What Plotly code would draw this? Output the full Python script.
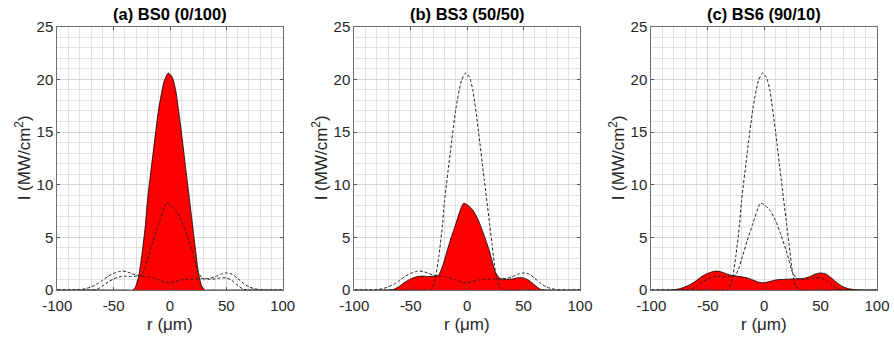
import plotly.graph_objects as go

# ---- data ----
r_bs0 = [-100, -40, -33, -31, -28, -25, -22, -20, -15, -10, -5, -1.5, 2, 5, 10, 15, 20, 22, 25, 28, 31, 35, 100]
i_bs0 = [0, 0, 0, 0.2, 1.2, 3.3, 6.0, 8.5, 13.0, 17.2, 19.9, 20.6, 20.2, 19.0, 15.1, 10.6, 6.2, 4.4, 1.8, 0.4, 0, 0, 0]

r_bs3 = [-100, -75, -70, -65, -60, -55, -50, -45, -40, -35, -30, -27, -25, -22, -20, -15, -10, -5, -3, 0, 5, 10, 15, 20, 25, 28, 30, 35, 40, 45, 50, 55, 60, 65, 70, 100]
i_bs3 = [0, 0, 0.01, 0.06, 0.35, 0.75, 1.05, 1.25, 1.32, 1.28, 1.3, 1.32, 1.45, 2.2, 2.9, 4.7, 6.3, 7.9, 8.25, 8.1, 7.6, 6.6, 5.2, 3.6, 1.7, 1.2, 1.05, 1.0, 1.05, 1.15, 1.15, 0.9, 0.45, 0.07, 0.0, 0]

r_bs6 = [-100, -90, -85, -80, -75, -70, -65, -60, -55, -50, -45, -42, -38, -35, -30, -25, -20, -15, -10, -5, -2, 0, 5, 10, 15, 20, 25, 30, 35, 40, 45, 50, 55, 60, 65, 70, 75, 80, 85, 90, 100]
i_bs6 = [0, 0, 0.01, 0.03, 0.12, 0.3, 0.55, 0.9, 1.3, 1.58, 1.76, 1.8, 1.72, 1.6, 1.42, 1.32, 1.25, 1.15, 0.95, 0.75, 0.7, 0.7, 0.8, 0.95, 1.0, 1.02, 1.05, 1.08, 1.1, 1.25, 1.5, 1.62, 1.5, 1.1, 0.65, 0.3, 0.12, 0.04, 0.01, 0, 0]

titles = ["(a) BS0 (0/100)", "(b) BS3 (50/50)", "(c) BS6 (90/10)"]
x_ticks = [-100, -50, 0, 50, 100]
y_ticks = [0, 5, 10, 15, 20, 25]

profiles = [(r_bs0, i_bs0), (r_bs3, i_bs3), (r_bs6, i_bs6)]

W, H = 894, 341
x_domains = [(57.3 / W, 282.7 / W), (354.3 / W, 580.0 / W), (651.3 / W, 877.0 / W)]
y_domain = (1 - 290.0 / H, 1 - 26.7 / H)

fig = go.Figure()
FONT = "Liberation Sans, Arial, Helvetica, sans-serif"
TXT = "#262626"

for k in range(3):
    xa = "x" if k == 0 else f"x{k+1}"
    ya = "y" if k == 0 else f"y{k+1}"
    r, v = profiles[k]
    fig.add_trace(go.Scatter(x=r, y=v, mode="lines", fill="tozeroy",
                             fillcolor="#FF0000",
                             line=dict(color="black", width=0.8, shape="spline", smoothing=0.6),
                             xaxis=xa, yaxis=ya, showlegend=False, hoverinfo="skip"))
    for j in range(3):
        if j == k:
            continue
        rr, vv = profiles[j]
        fig.add_trace(go.Scatter(x=rr, y=vv, mode="lines",
                                 line=dict(color="#222222", width=1, dash="3px,2px", shape="spline", smoothing=0.6),
                                 xaxis=xa, yaxis=ya, showlegend=False, hoverinfo="skip"))

axis_common = dict(showline=True, linecolor="#6e6e6e", linewidth=1, mirror="ticks",
                   ticks="inside", ticklen=3, tickcolor="#555555",
                   showgrid=True, gridcolor="#d6d6d6", gridwidth=1,
                   zeroline=False, tickfont=dict(family=FONT, size=15, color=TXT),
                   automargin=False)

layout = dict(width=W, height=H, margin=dict(l=0, r=0, t=0, b=0),
              paper_bgcolor="white", plot_bgcolor="white", showlegend=False)

annotations = []
for k in range(3):
    xs = "xaxis" if k == 0 else f"xaxis{k+1}"
    ys = "yaxis" if k == 0 else f"yaxis{k+1}"
    ya = "y" if k == 0 else f"y{k+1}"
    xa = "x" if k == 0 else f"x{k+1}"
    layout[xs] = dict(axis_common, domain=list(x_domains[k]), range=[-100, 100],
                      tickvals=x_ticks, ticktext=[str(t) for t in x_ticks], anchor=ya,
                      ticklabelstandoff=2,
                      minor=dict(dtick=10, tick0=0, showgrid=True, gridcolor="#e2e2e2", gridwidth=1, ticks=""))
    layout[ys] = dict(axis_common, domain=list(y_domain), range=[0, 25],
                      tickvals=y_ticks, ticktext=[str(t) for t in y_ticks], anchor=xa,
                      minor=dict(dtick=1, tick0=0, showgrid=True, gridcolor="#e2e2e2", gridwidth=1, ticks=""))
    cx = (x_domains[k][0] + x_domains[k][1]) / 2
    annotations.append(dict(text="<b>" + titles[k] + "</b>", x=cx, y=1 - 14.5 / H, xref="paper", yref="paper",
                            showarrow=False, font=dict(family=FONT, size=16.5, color="black"),
                            xanchor="center", yanchor="middle"))
    annotations.append(dict(text="r (\u03bcm)", x=cx, y=1 - 324 / H, xref="paper", yref="paper",
                            showarrow=False, font=dict(family=FONT, size=17, color=TXT),
                            xanchor="center", yanchor="middle"))
    annotations.append(dict(text="I (MW/cm<sup>2</sup>)", x=(23 + 297 * k) / W, y=(y_domain[0] + y_domain[1]) / 2,
                            xref="paper", yref="paper", textangle=-90,
                            showarrow=False, font=dict(family=FONT, size=17, color=TXT),
                            xanchor="center", yanchor="middle"))

layout["annotations"] = annotations
fig.update_layout(**layout)
fig.write_html("out.html", config={"displayModeBar": False},
               post_script="document.body.style.margin='0';document.body.style.overflow='hidden';")
